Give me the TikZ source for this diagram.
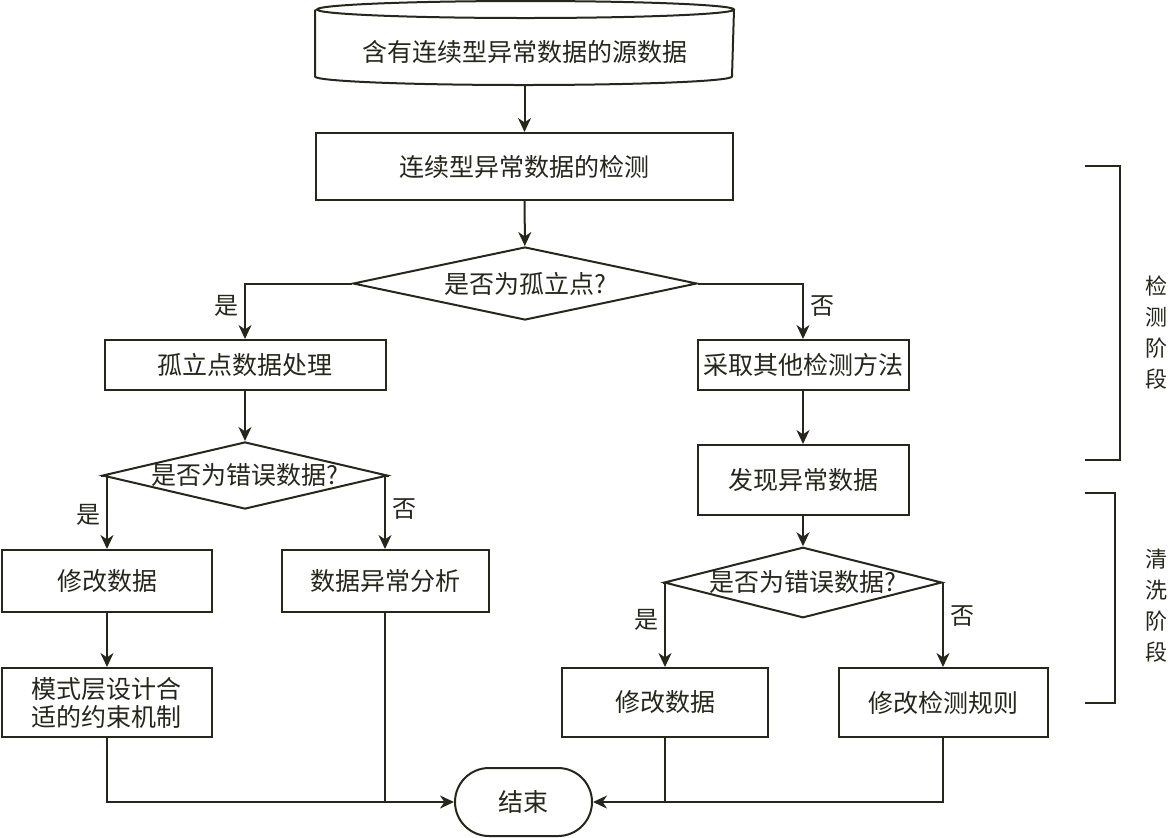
\documentclass[tikz,border=0pt]{standalone}
\usepackage{fontspec}
\setmainfont{Noto Sans CJK SC}
\usepackage{tikz}
\usetikzlibrary{arrows.meta, positioning, shapes.geometric}
\definecolor{inkline}{RGB}{38,38,28}
\tikzstyle{process}  = [rectangle, draw=inkline, line width=1pt, text centered,
    inner sep=0pt, text=inkline, font=\fontsize{12.5pt}{14pt}\selectfont]
\tikzstyle{decision} = [diamond, draw=inkline, line width=1pt, text centered,
    inner sep=0pt, text=inkline, font=\fontsize{12.5pt}{14pt}\selectfont]
\tikzstyle{terminal} = [rectangle, rounded corners=17pt, draw=inkline, line width=1pt,
    text centered, text=inkline, font=\fontsize{12.5pt}{14pt}\selectfont]
\tikzstyle{arrow}    = [line width=1pt, draw=inkline, -{Stealth[length=7pt, width=6.5pt, inset=2.2pt]}]
\tikzstyle{line}     = [line width=1pt, draw=inkline]
\tikzstyle{branch}   = [text=inkline, inner sep=3pt, font=\fontsize{12pt}{14pt}\selectfont]
\tikzstyle{phase}    = [align=center, text=inkline, font=\fontsize{11pt}{15.5pt}\selectfont]

\begin{document}
\begin{tikzpicture}[x=0.5pt, y=0.5pt]
    \useasboundingbox (0,0) rectangle (1168,-837);

    % detection column
    \node (src)     [process, draw=none, minimum width=208.5pt, minimum height=32.5pt] at (524.5,-51.5) {含有连续型异常数据的源数据};
    \draw [line] ([yshift=4.25pt]src.north west) -- ([yshift=4.25pt]src.south west)
        arc[start angle=180, end angle=360, x radius=104.25pt, y radius=4.25pt]
        -- ([yshift=4.25pt]src.north east)
        arc[start angle=0, end angle=360, x radius=104.25pt, y radius=4.25pt];
    \node (det)     [process, minimum width=208.5pt, minimum height=33.5pt] at (524.5,-166.5) {连续型异常数据的检测};
    \node (iso)     [decision, minimum width=172pt, minimum height=36.5pt, shape aspect=4.7] at (525,-283.5) {是否为孤立点?};
    \node (isoproc) [process, minimum width=140.5pt, minimum height=25pt] at (245,-365) {孤立点数据处理};
    \node (other)   [process, minimum width=105.5pt, minimum height=25pt] at (803,-365) {采取其他检测方法};

    % left branch
    \node (err1)    [decision, minimum width=138pt, minimum height=32.5pt, shape aspect=4.25] at (245,-475.5) {是否为错误数据?};
    \node (fix1)    [process, minimum width=105pt, minimum height=31pt] at (107,-581) {修改数据};
    \node (ana)     [process, minimum width=103.5pt, minimum height=31pt] at (385,-581) {数据异常分析};
    \node (schema)  [process, minimum width=105pt, minimum height=34.5pt, align=center] at (107,-702.5) {模式层设计合\\适的约束机制};

    % right branch
    \node (found)   [process, minimum width=105.5pt, minimum height=35pt] at (803,-480) {发现异常数据};
    \node (err2)    [decision, minimum width=136pt, minimum height=34.5pt, shape aspect=3.94] at (803,-582.5) {是否为错误数据?};
    \node (fix2)    [process, minimum width=103pt, minimum height=34.5pt] at (665,-702.5) {修改数据};
    \node (rule)    [process, minimum width=104.5pt, minimum height=34.5pt] at (943,-702.5) {修改检测规则};

    \node (stop)    [terminal, minimum width=68.5pt, minimum height=34pt] at (523.5,-802) {结束};

    \draw [arrow] (src.south) -- (det);
    \draw [arrow] (det) -- (iso);
    \draw [arrow] (iso.west) -| node[branch, pos=0.7, left]{是} (isoproc);
    \draw [arrow] (iso.east) -| node[branch, pos=0.7, right]{否} (other);
    \draw [arrow] (isoproc) -- (err1);
    \draw [arrow] (err1.west) -| node[branch, pos=0.77, left]{是} (fix1);
    \draw [arrow] (err1.east) -| node[branch, pos=0.73, right]{否} (ana);
    \draw [arrow] (fix1) -- (schema);
    \draw [arrow] (other) -- (found);
    \draw [arrow] (found) -- (err2);
    \draw [arrow] (err2.west) -| node[branch, pos=0.72, left]{是} (fix2);
    \draw [arrow] (err2.east) -| node[branch, pos=0.7, right]{否} (rule);

    \draw [arrow] (schema) |- (stop);
    \draw [line]  (ana) -- (ana |- stop);
    \draw [arrow] (rule) |- (stop);
    \draw [line]  (fix2) -- (fix2 |- stop);

    % phase brackets
    \draw [line] (1085,-166) -- (1120,-166) -- (1120,-460) -- (1085,-460);
    \node (detphase)   [phase] at (1156,-333) {检\\测\\阶\\段};
    \draw [line] (1085,-493) -- (1115,-493) -- (1115,-703) -- (1085,-703);
    \node (cleanphase) [phase] at (1156,-606) {清\\洗\\阶\\段};
\end{tikzpicture}
\end{document}
